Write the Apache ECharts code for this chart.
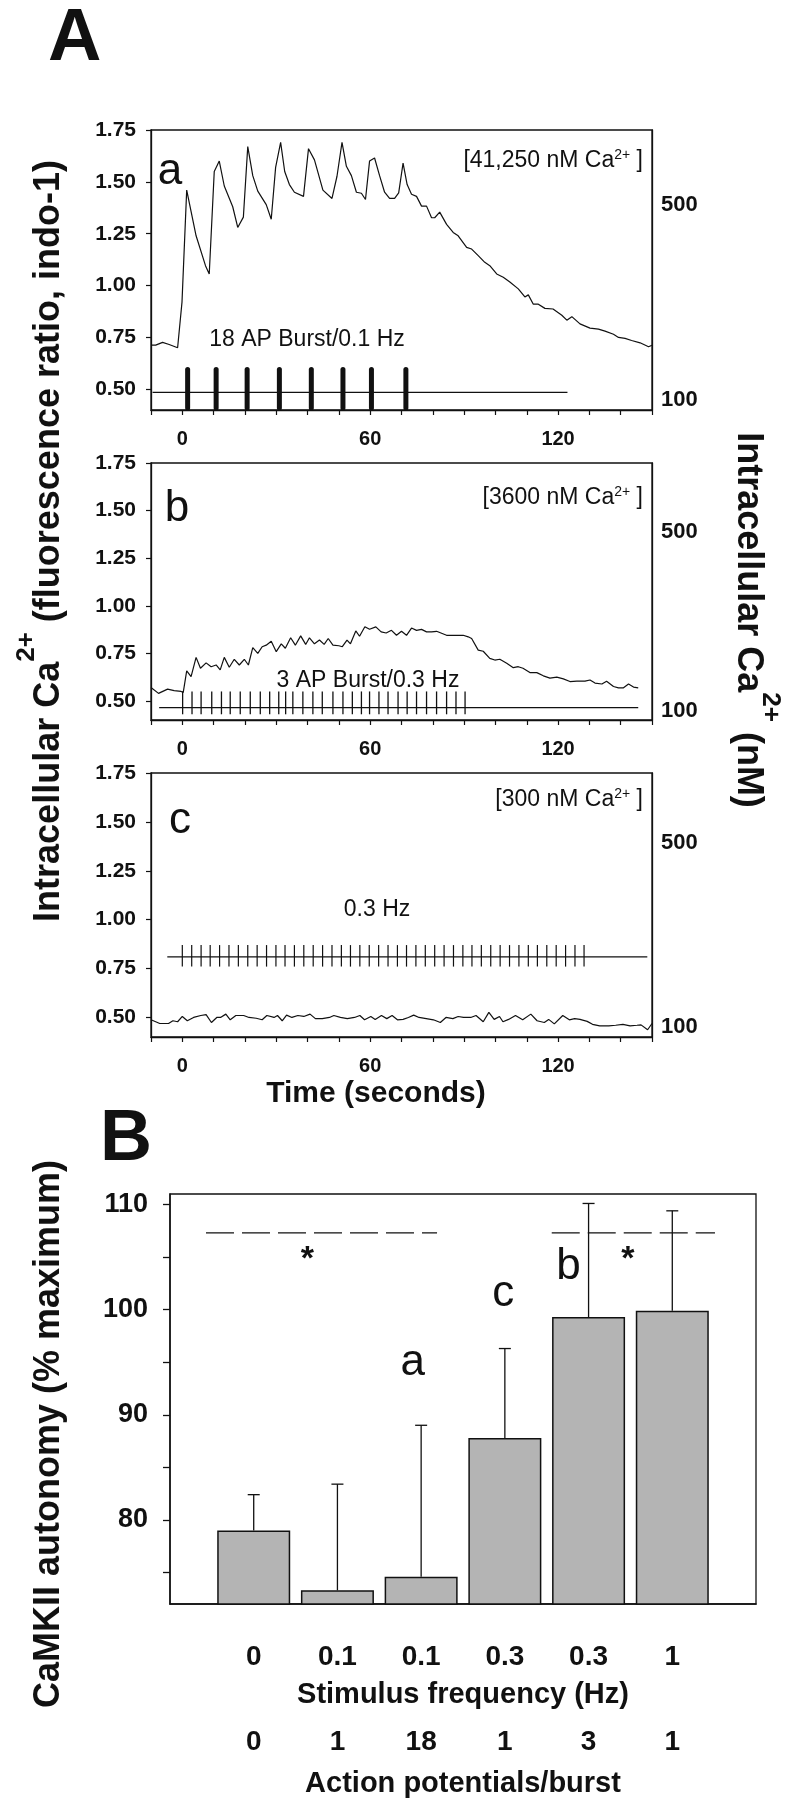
<!DOCTYPE html>
<html><head><meta charset="utf-8">
<script src="https://cdn.jsdelivr.net/npm/echarts@6/dist/echarts.min.js"></script>
<style>html,body{margin:0;padding:0;background:#fff}#c{width:785px;height:1800px}</style>
</head><body><div id="c"></div>
<script>
const FONT = '"Liberation Sans", Arial, Helvetica, sans-serif';
const INK = '#111';

// ---------- Panel A: Ca2+ traces (time s, fluorescence ratio) ----------
const timeA = [-10,-8.5,-6.3,-4.2,-1.5,-0.1,1.4,4.4,7.4,8.6,10.2,11.8,13.4,16.1,17.7,19.5,20.9,22.5,24.1,26.8,28.4,29.8,31.4,32.7,34.2,35.8,38.7,40.3,42.2,44.9,47.8,49.4,51.0,52.4,54.0,55.6,57.2,58.5,59.8,61.4,63.0,64.6,66.2,67.8,69.1,70.5,71.8,73.2,74.8,76.4,78.0,79.6,80.6,82.2,84.4,86.5,88.1,90.8,92.4,94.5,96.6,98.2,100.4,102.5,104.6,107.3,109.4,110.5,112.1,113.7,115.8,118.4,121.2,122.8,124.4,127.0,130.2,132.9,135.0,137.7,139.3,141.4,143.5,146.2,148.9,150];
const ratioA = [0.713,0.713,0.726,0.716,0.700,0.920,1.460,1.240,1.096,1.056,1.550,1.600,1.480,1.380,1.280,1.330,1.670,1.530,1.455,1.390,1.320,1.570,1.690,1.550,1.487,1.450,1.430,1.660,1.606,1.460,1.420,1.527,1.690,1.575,1.530,1.450,1.445,1.415,1.600,1.615,1.530,1.450,1.420,1.420,1.447,1.590,1.487,1.440,1.430,1.383,1.383,1.327,1.327,1.354,1.295,1.256,1.240,1.184,1.176,1.144,1.112,1.096,1.056,1.040,1.017,0.984,0.945,0.955,0.910,0.910,0.890,0.887,0.857,0.833,0.850,0.815,0.795,0.790,0.780,0.765,0.750,0.745,0.735,0.724,0.705,0.712];

const timeB = [-10,-7.6,-4.7,-2.6,-0.4,0.3,1.4,2.8,4.4,5.8,7.6,9.2,10.8,12.1,13.4,15.0,16.6,18.2,19.8,21.1,22.5,24.1,25.5,26.8,28.4,30.0,31.6,32.9,34.6,36.1,37.8,39.4,40.6,42.2,43.8,45.3,46.6,48.1,50.0,51.1,52.6,53.7,55.4,56.6,58.3,59.8,61.8,63.5,65.1,66.8,68.4,70.0,71.6,73.2,74.8,76.4,78.0,79.6,81.2,84.4,87.0,89.7,91.3,92.4,94.5,96.1,98.2,99.8,101.4,103.6,105.7,107.3,108.8,111.0,113.2,115.3,117.4,119.6,121.7,123.8,126.0,128.6,130.2,131.8,134.0,135.5,137.7,139.3,140.9,142.5,144.1,145.6];
const ratioB = [0.571,0.540,0.562,0.554,0.550,0.545,0.658,0.628,0.729,0.672,0.700,0.680,0.689,0.663,0.729,0.677,0.719,0.689,0.719,0.689,0.780,0.750,0.785,0.793,0.814,0.759,0.800,0.777,0.832,0.793,0.842,0.797,0.832,0.800,0.820,0.797,0.828,0.793,0.790,0.785,0.820,0.800,0.868,0.840,0.890,0.877,0.889,0.863,0.857,0.871,0.845,0.866,0.845,0.883,0.871,0.876,0.863,0.863,0.866,0.845,0.845,0.845,0.837,0.828,0.767,0.761,0.724,0.715,0.719,0.698,0.675,0.680,0.672,0.649,0.649,0.632,0.620,0.625,0.616,0.602,0.604,0.604,0.610,0.594,0.589,0.604,0.576,0.569,0.569,0.589,0.573,0.569];

const timeC = [-10,-7.2,-4.4,-3.0,-1.5,0,1.6,3.6,5.9,7.6,9.3,11.0,12.2,13.9,15.3,17.1,19.6,21.3,23.6,25.5,27.0,29.3,30.4,31.9,33.3,35.0,36.9,38.8,40.8,42.5,44.7,47.0,48.4,50.5,52.7,55.0,56.7,58.2,60.2,61.6,63.6,65.3,67.0,68.7,70.5,72.2,73.9,75.6,77.9,80.2,82.4,84.2,86.4,88.1,89.8,92.1,93.8,96.1,97.9,99.6,101.3,102.4,104.2,106.4,108.7,111.3,113.3,115.6,117.0,118.8,121.5,123.6,125.3,127.0,129.3,131.0,133.3,136.2,138.4,140.7,143.0,145.2,146.5,148.6,150];
const ratioC = [0.488,0.469,0.469,0.483,0.478,0.505,0.483,0.500,0.510,0.514,0.474,0.500,0.500,0.517,0.488,0.510,0.510,0.500,0.496,0.488,0.510,0.500,0.510,0.483,0.512,0.500,0.510,0.505,0.517,0.494,0.494,0.500,0.510,0.500,0.494,0.500,0.510,0.488,0.505,0.490,0.510,0.494,0.510,0.488,0.490,0.500,0.512,0.500,0.494,0.488,0.474,0.500,0.494,0.505,0.500,0.500,0.510,0.478,0.526,0.490,0.505,0.478,0.490,0.510,0.488,0.517,0.483,0.474,0.490,0.467,0.510,0.488,0.494,0.490,0.480,0.465,0.457,0.457,0.460,0.465,0.457,0.460,0.462,0.437,0.469];

// stimulus markers (time of each burst / AP) and the stimulus baseline
const burstA = [1.7,10.8,20.7,31.0,41.2,51.3,60.4,71.4];
const stimSpanA = [-9.5, 123];   const stimLevelA = 0.485; const markRangeA = [0.41, 0.595];
const burstB = [0.1,3.1,6.0,9.4,12.5,15.3,18.5,21.7,24.9,27.9,30.8,33.0,35.3,38.5,41.7,44.7,48.1,51.3,54.3,57.2,59.8,62.8,65.7,68.9,71.8,74.8,78.0,81.2,84.4,87.4,90.3];
const stimSpanB = [-7.4, 145.6]; const stimLevelB = 0.465; const markRangeB = [0.43, 0.55];
const apC = [0,3.0,6.0,8.9,11.9,14.9,17.9,20.9,23.9,26.9,29.9,32.8,35.8,38.8,41.8,44.8,47.8,50.8,53.7,56.7,59.7,62.7,65.7,68.7,71.6,74.6,77.6,80.6,83.6,86.6,89.6,92.5,95.5,98.5,101.5,104.5,107.5,110.5,113.4,116.4,119.4,122.4,125.4,128.3];
const stimSpanC = [-4.8, 148.5]; const stimLevelC = 0.81; const markRangeC = [0.76, 0.87];

// axes
const ratioTicks = [0.5,0.75,1.0,1.25,1.5,1.75];
const timeTickLabels = [0,60,120];
const caTickRatio = [0.45,1.39];
const caTickLabels = ['100','500'];

// ---------- Panel B: CaMKII autonomy ----------
const freqLabels = ['0','0.1','0.1','0.3','0.3','1'];
const apLabels = ['0','1','18','1','3','1'];
const autonomy = [79.0,73.3,74.6,87.8,99.3,99.9];
const autonomyErrTop = [82.4,83.4,89.0,96.3,110.1,109.4];
const autonomyTicks = [75,80,85,90,95,100,105,110];
const autonomyLabels = [80,90,100,110];
const sigSpans = [[0.43,3.19],[4.56,6.51]];
const sigLevel = 107.3;
const annotText = ['*','*','a','c','b'];
const annotX = [1.64,5.47,2.90,3.98,4.76];
const annotY = [104.8,104.8,94.9,101.5,104.1];

const zip = (a,b) => a.map((v,i)=>[v,b[i]]);

function markRenderer(range, width, cap){
  return function(params, api){
    const t = api.value(0);
    const p1 = api.coord([t, range[0]]);
    const p2 = api.coord([t, range[1]]);
    return {type:'line', shape:{x1:p1[0],y1:p1[1],x2:p2[0],y2:p2[1]},
      style:{stroke:INK, lineWidth:width, lineCap:cap}};
  };
}

const grids = [
  {left:151, top:130, width:501, height:280},
  {left:151, top:463, width:501, height:257},
  {left:151, top:773, width:501, height:264},
  {left:170, top:1194, width:586, height:410}
].map(g => Object.assign({show:true, borderColor:INK, borderWidth:1.3, backgroundColor:'transparent'}, g));

const axisLineStyle = {onZero:false, lineStyle:{color:INK, width:1.3}};
const boldLabel = (size, extra) => Object.assign({color:INK, fontFamily:FONT, fontWeight:'bold', fontSize:size}, extra);

const xAxes = [0,1,2].map(i => ({
  gridIndex:i, type:'value', min:-10, max:150, interval:10,
  axisLine:axisLineStyle, splitLine:{show:false},
  axisTick:{show:true, length:5, lineStyle:{color:INK, width:1.2}},
  axisLabel:boldLabel(20, {margin:19, formatter: v => timeTickLabels.includes(v) ? String(v) : ''})
}));
xAxes.push({
  gridIndex:3, type:'value', min:0, max:7, interval:1,
  axisLine:{onZero:false, lineStyle:{color:INK, width:1.5}}, axisTick:{show:false}, splitLine:{show:false},
  axisLabel:boldLabel(28, {margin:39, formatter: v => freqLabels[v-1] !== undefined ? freqLabels[v-1] : ''}),
  name:'Stimulus frequency (Hz)', nameLocation:'middle', nameGap:76,
  nameTextStyle:boldLabel(29, {})
});
xAxes.push({
  gridIndex:3, type:'value', min:0, max:7, interval:1, position:'bottom', offset:85,
  axisLine:{show:false, onZero:false}, axisTick:{show:false}, splitLine:{show:false},
  axisLabel:boldLabel(28, {margin:39, formatter: v => apLabels[v-1] !== undefined ? apLabels[v-1] : ''}),
  name:'Action potentials/burst', nameLocation:'middle', nameGap:80,
  nameTextStyle:boldLabel(29, {})
});

const yAxes = [0,1,2].map(i => ({
  gridIndex:i, type:'value', min:0.4, max:1.75,
  axisLine:{show:true, onZero:false, lineStyle:{color:INK, width:1.3}}, splitLine:{show:false},
  axisTick:{show:true, length:5, customValues:ratioTicks, lineStyle:{color:INK, width:1.2}},
  axisLabel:boldLabel(21, {margin:15, customValues:ratioTicks, formatter: v => v.toFixed(2)})
}));
[0,1,2].forEach(i => yAxes.push({
  gridIndex:i, type:'value', position:'right', min:0.4, max:1.75,
  axisLine:{show:true, onZero:false, lineStyle:{color:INK, width:1.3}}, splitLine:{show:false},
  axisTick:{show:false},
  axisLabel:boldLabel(22, {margin:9, customValues:caTickRatio, formatter: v => caTickLabels[caTickRatio.indexOf(v)] || ''})
}));
yAxes.push({
  gridIndex:3, type:'value', min:72, max:111,
  axisLine:{show:true, onZero:false, lineStyle:{color:INK, width:1.5}}, splitLine:{show:false},
  axisTick:{show:true, length:7, customValues:autonomyTicks, lineStyle:{color:INK, width:1.3}},
  axisLabel:boldLabel(27, {margin:22, customValues:autonomyLabels})
});

const traceStyle = {color:INK, width:1.2};
const series = [];
const panels = [
  {t:timeA, v:ratioA, marks:burstA, span:stimSpanA, level:stimLevelA, range:markRangeA, w:5, cap:'round'},
  {t:timeB, v:ratioB, marks:burstB, span:stimSpanB, level:stimLevelB, range:markRangeB, w:1.3, cap:'butt'},
  {t:timeC, v:ratioC, marks:apC, span:stimSpanC, level:stimLevelC, range:markRangeC, w:1.2, cap:'butt'}
];
panels.forEach((p,i) => {
  series.push({type:'line', xAxisIndex:i, yAxisIndex:i, data:zip(p.t,p.v), symbol:'none',
    lineStyle:traceStyle, silent:true, z:3});
  series.push({type:'line', xAxisIndex:i, yAxisIndex:i, data:[[p.span[0],p.level],[p.span[1],p.level]],
    symbol:'none', lineStyle:{color:INK, width:1.2}, silent:true, z:2});
  series.push({type:'custom', xAxisIndex:i, yAxisIndex:i, coordinateSystem:'cartesian2d',
    data:p.marks.map(t => [t, p.level]), renderItem:markRenderer(p.range, p.w, p.cap), silent:true, z:4});
});

// Panel B
series.push({type:'bar', xAxisIndex:3, yAxisIndex:6, barWidth:73,
  data:autonomy.map((v,i)=>[i+1, v]),
  itemStyle:{color:'#b4b4b4', borderColor:INK, borderWidth:1.5}, silent:true, z:2});
series.push({type:'custom', xAxisIndex:3, yAxisIndex:6, coordinateSystem:'cartesian2d',
  data:autonomy.map((v,i)=>[i+1, v, autonomyErrTop[i]]),
  renderItem:function(params, api){
    const x = api.value(0);
    const p = api.coord([x, api.value(1)]);
    const q = api.coord([x, api.value(2)]);
    return {type:'group', children:[
      {type:'line', shape:{x1:p[0],y1:p[1],x2:q[0],y2:q[1]}, style:{stroke:INK, lineWidth:1.3}},
      {type:'line', shape:{x1:q[0]-6,y1:q[1],x2:q[0]+6,y2:q[1]}, style:{stroke:INK, lineWidth:1.3}}
    ]};
  }, silent:true, z:5});
sigSpans.forEach(s => series.push({type:'line', xAxisIndex:3, yAxisIndex:6,
  data:[[s[0],sigLevel],[s[1],sigLevel]], symbol:'none',
  lineStyle:{color:INK, width:1.3, type:[28,8]}, silent:true, z:4}));
series.push({type:'custom', xAxisIndex:3, yAxisIndex:6, coordinateSystem:'cartesian2d', silent:true, z:6,
  data:annotText.map((s,i)=>[annotX[i], annotY[i]]),
  renderItem:function(params, api){
    const p = api.coord([api.value(0), api.value(1)]);
    const s = annotText[params.dataIndex];
    const star = s === '*';
    return {type:'text', x:p[0], y:p[1], style:{text:s, fontSize: star ? 34 : 44,
      fontWeight: star ? 'bold' : 'normal', fontFamily:FONT, fill:INK, align:'center', verticalAlign:'middle'}};
  }});

const supRich = (size) => ({sup:{fontSize:size, fontFamily:FONT, fill:INK, verticalAlign:'top'}});
const txt = (x, y, text, size, weight, align, extra) => Object.assign({
  type:'text', x:x, y:y, silent:true, z:10,
  style:{text:text, fontSize:size, fontWeight:weight, fontFamily:FONT, fill:INK, align:align, verticalAlign:'middle'}
}, extra || {});

const graphics = [
  txt(48, 40, 'A', 74, 'bold', 'left'),
  txt(100, 1140, 'B', 72, 'bold', 'left'),
  txt(170, 172, 'a', 44, 'normal', 'center'),
  txt(177, 509, 'b', 44, 'normal', 'center'),
  txt(180, 821, 'c', 44, 'normal', 'center'),
  txt(307, 340, '18 AP Burst/0.1 Hz', 23, 'normal', 'center'),
  txt(368, 681, '3 AP Burst/0.3 Hz', 23, 'normal', 'center'),
  txt(377, 910, '0.3 Hz', 23, 'normal', 'center'),
  txt(376, 1094, 'Time (seconds)', 30, 'bold', 'center')
];
[['[41,250 nM Ca{sup|2+} ]', 161], ['[3600 nM Ca{sup|2+} ]', 498], ['[300 nM Ca{sup|2+} ]', 800]].forEach(([t,y]) => {
  const g = txt(643, y, t, 23, 'normal', 'right');
  g.style.rich = supRich(14);
  g.style.lineHeight = 26;
  graphics.push(g);
});
const leftTitle = txt(49, 541, 'Intracellular Ca{sup|2+} (fluorescence ratio, indo-1)', 36, 'bold', 'center', {rotation:Math.PI/2});
leftTitle.style.lineHeight = 70;
leftTitle.style.rich = {sup:{fontSize:26, fontWeight:'bold', fontFamily:FONT, fill:INK, verticalAlign:'top', lineHeight:26}};
graphics.push(leftTitle);
const rightTitle = txt(748, 620, 'Intracellular Ca{sup|2+} (nM)', 36, 'bold', 'center', {rotation:-Math.PI/2});
rightTitle.style.lineHeight = 70;
rightTitle.style.rich = {sup:{fontSize:26, fontWeight:'bold', fontFamily:FONT, fill:INK, verticalAlign:'top', lineHeight:26}};
graphics.push(rightTitle);
graphics.push(txt(49, 1434, 'CaMKII autonomy (% maximum)', 36, 'bold', 'center', {rotation:Math.PI/2}));

const chart = echarts.init(document.getElementById('c'), null, {renderer:'canvas'});
chart.setOption({
  backgroundColor:'#fff', animation:false,
  grid:grids, xAxis:xAxes, yAxis:yAxes, series:series, graphic:graphics
});
</script></body></html>
